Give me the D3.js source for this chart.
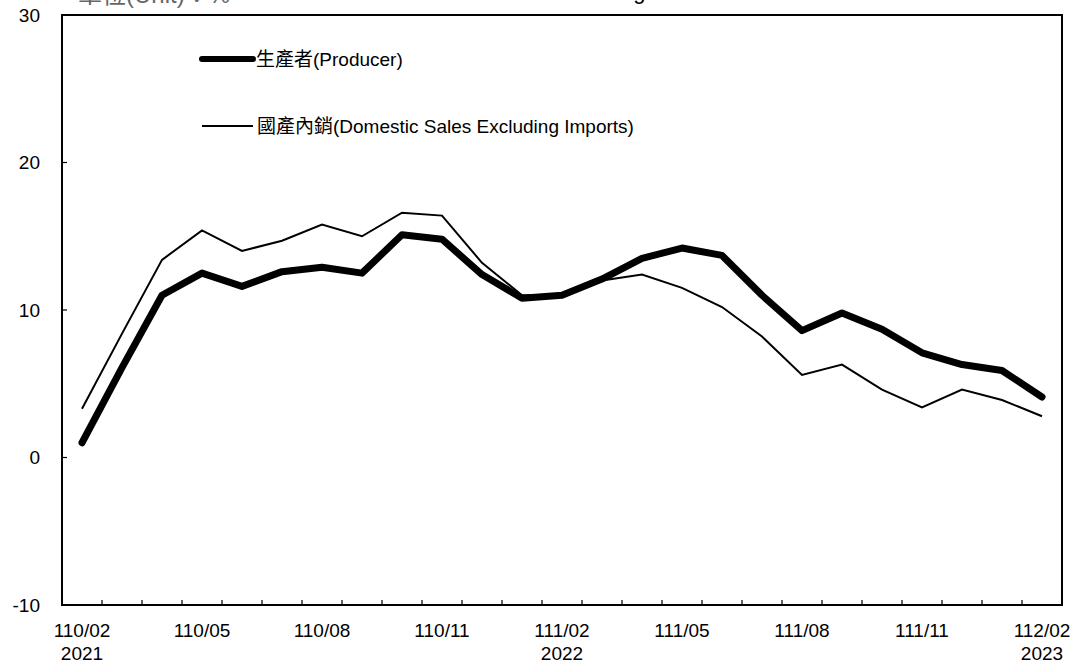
<!DOCTYPE html>
<html>
<head>
<meta charset="utf-8">
<script src="https://cdn.jsdelivr.net/npm/d3@7"></script>
<style>
  html, body { margin: 0; padding: 0; background: #fff; overflow: hidden; }
  svg { display: block; }
  text { font-family: "Liberation Sans", Arial, "Noto Sans CJK TC", sans-serif; }
</style>
</head>
<body>
<svg id="chart" width="1079" height="663"></svg>
<script>
const months = ["110/02","110/03","110/04","110/05","110/06","110/07","110/08","110/09","110/10","110/11","110/12","111/01",
                "111/02","111/03","111/04","111/05","111/06","111/07","111/08","111/09","111/10","111/11","111/12","112/01","112/02"];
const labelMonths = ["110/02","110/05","110/08","110/11","111/02","111/05","111/08","111/11","112/02"];
const yearLabels = {"110/02": "2021", "111/02": "2022", "112/02": "2023"};
const producer = [1.0, 6.1, 11.0, 12.5, 11.6, 12.6, 12.9, 12.5, 15.1, 14.8, 12.4, 10.8,
                  11.0, 12.1, 13.5, 14.2, 13.7, 11.0, 8.6, 9.8, 8.7, 7.1, 6.3, 5.9, 4.1];
const domestic = [3.3, 8.4, 13.4, 15.4, 14.0, 14.7, 15.8, 15.0, 16.6, 16.4, 13.2, 11.0,
                  11.0, 12.0, 12.4, 11.5, 10.2, 8.2, 5.6, 6.3, 4.6, 3.4, 4.6, 3.9, 2.8];
const yTicks = [-10, 0, 10, 20, 30];
const seriesNames = ["生產者(Producer)", "國產內銷(Domestic Sales Excluding Imports)"];
const unitText = "單位(Unit)：%";
const titleText = "Annual Change";

const svg = d3.select("#chart");
const L = 62, R = 1062, T = 15, B = 605;

const x = d3.scaleBand().domain(months).range([L, R]).padding(0);
const xc = d => x(d) + x.bandwidth() / 2;
const y = d3.scaleLinear().domain([-10, 30]).range([B, T]);

// unit + (clipped) title
svg.append("text").attr("x", 78).attr("y", 3).attr("font-size", 24).attr("fill", "#666").text(unitText);
svg.append("text").attr("x", 506).attr("y", -1).attr("font-size", 22).attr("fill", "#000").text(titleText);

// frame
svg.append("rect").attr("x", L).attr("y", T).attr("width", R - L).attr("height", B - T)
  .attr("fill", "none").attr("stroke", "#000").attr("stroke-width", 2);

// y ticks (inside)
const g = svg.append("g");
g.selectAll(".yt").data(yTicks).enter().append("line")
  .attr("x1", L).attr("x2", L + 5).attr("y1", d => y(d)).attr("y2", d => y(d))
  .attr("stroke", "#000").attr("stroke-width", 1.2);
g.selectAll(".yl").data(yTicks).enter().append("text")
  .attr("x", 40).attr("y", d => y(d)).attr("dy", "0.36em")
  .attr("text-anchor", "end").attr("font-size", 19).text(d => d);

// x ticks at band boundaries (inside, upward)
g.selectAll(".xt").data(months.slice(1)).enter().append("line")
  .attr("x1", d => x(d)).attr("x2", d => x(d)).attr("y1", B).attr("y2", B - 5)
  .attr("stroke", "#000").attr("stroke-width", 1.2);
g.selectAll(".xl").data(labelMonths).enter().append("text")
  .attr("x", d => xc(d)).attr("y", 637).attr("text-anchor", "middle").attr("font-size", 19).text(d => d);
g.selectAll(".xy").data(labelMonths.filter(d => yearLabels[d])).enter().append("text")
  .attr("x", d => xc(d)).attr("y", 660).attr("text-anchor", "middle").attr("font-size", 19).text(d => yearLabels[d]);

// lines
const line = d3.line().x((d, i) => xc(months[i])).y(d => y(d));
svg.append("path").datum(domestic).attr("d", line).attr("fill", "none")
  .attr("stroke", "#000").attr("stroke-width", 2).attr("stroke-linejoin", "miter");
svg.append("path").datum(producer).attr("d", line).attr("fill", "none")
  .attr("stroke", "#000").attr("stroke-width", 7).attr("stroke-linecap", "round").attr("stroke-linejoin", "round");

// legend
const lg = svg.append("g");
lg.append("line").attr("x1", 202).attr("x2", 253).attr("y1", 59).attr("y2", 59)
  .attr("stroke", "#000").attr("stroke-width", 6).attr("stroke-linecap", "round");
lg.append("text").attr("x", 256).attr("y", 65.5).attr("font-size", 19).text(seriesNames[0]);
lg.append("line").attr("x1", 202).attr("x2", 253).attr("y1", 126).attr("y2", 126)
  .attr("stroke", "#000").attr("stroke-width", 2);
lg.append("text").attr("x", 257).attr("y", 132.5).attr("font-size", 19).text(seriesNames[1]);
</script>
</body>
</html>
